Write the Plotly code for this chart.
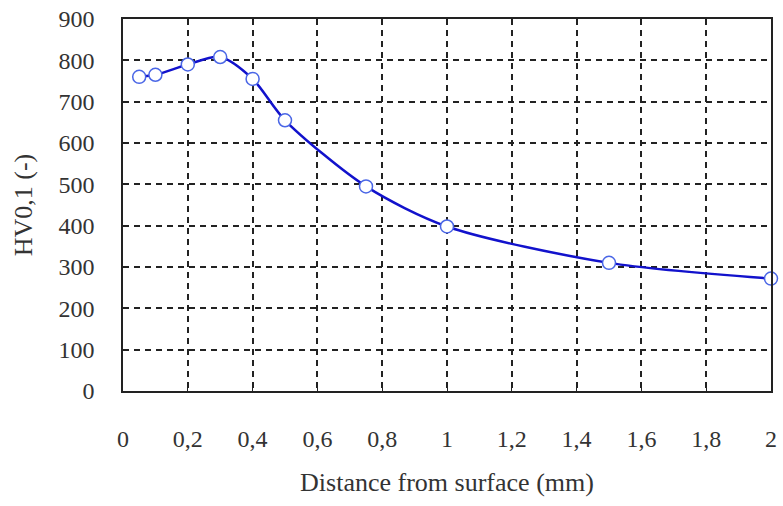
import plotly.graph_objects as go

distance_mm = [0.05, 0.1, 0.2, 0.3, 0.4, 0.5, 0.75, 1.0, 1.5, 2.0]
hardness_hv = [760, 765, 790, 808, 755, 655, 495, 398, 310, 272]

x_ticks = [0, 0.2, 0.4, 0.6, 0.8, 1.0, 1.2, 1.4, 1.6, 1.8, 2.0]
y_ticks = [0, 100, 200, 300, 400, 500, 600, 700, 800, 900]

font_family = "Liberation Serif"

fig = go.Figure()
fig.add_trace(go.Scatter(
    x=distance_mm, y=hardness_hv,
    mode="lines+markers",
    line=dict(color="#1212cc", width=2.5, shape="spline", smoothing=0.8),
    marker=dict(symbol="circle", size=13, color="white",
                line=dict(color="#4a66e6", width=1.5)),
    cliponaxis=False,
    showlegend=False,
))

axis_common = dict(
    showline=True, linecolor="#222", linewidth=1.5, mirror=True,
    showgrid=True, gridcolor="#222", gridwidth=1.8, griddash="6px,5px",
    ticks="inside", ticklen=6, tickcolor="#222", tickwidth=1,
    zeroline=False,
    tickfont=dict(family=font_family, size=24, color="#333"),
)

fig.update_layout(
    width=783, height=506,
    margin=dict(l=123, r=6, t=16, b=115),
    paper_bgcolor="white", plot_bgcolor="white",
    separators=", ",
    font=dict(family=font_family, color="#333"),
    xaxis=dict(
        range=[0, 2], tickvals=x_ticks, ticklabelstandoff=25,
        title=dict(text="Distance from surface (mm)",
                   font=dict(family=font_family, size=26, color="#333"),
                   standoff=22),
        **axis_common,
    ),
    yaxis=dict(
        range=[0, 900], tickvals=y_ticks, ticklabelstandoff=22,
        title=dict(text="HV0,1 (-)",
                   font=dict(family=font_family, size=26, color="#333"),
                   standoff=18),
        **axis_common,
    ),
)

fig.write_html("out.html")
